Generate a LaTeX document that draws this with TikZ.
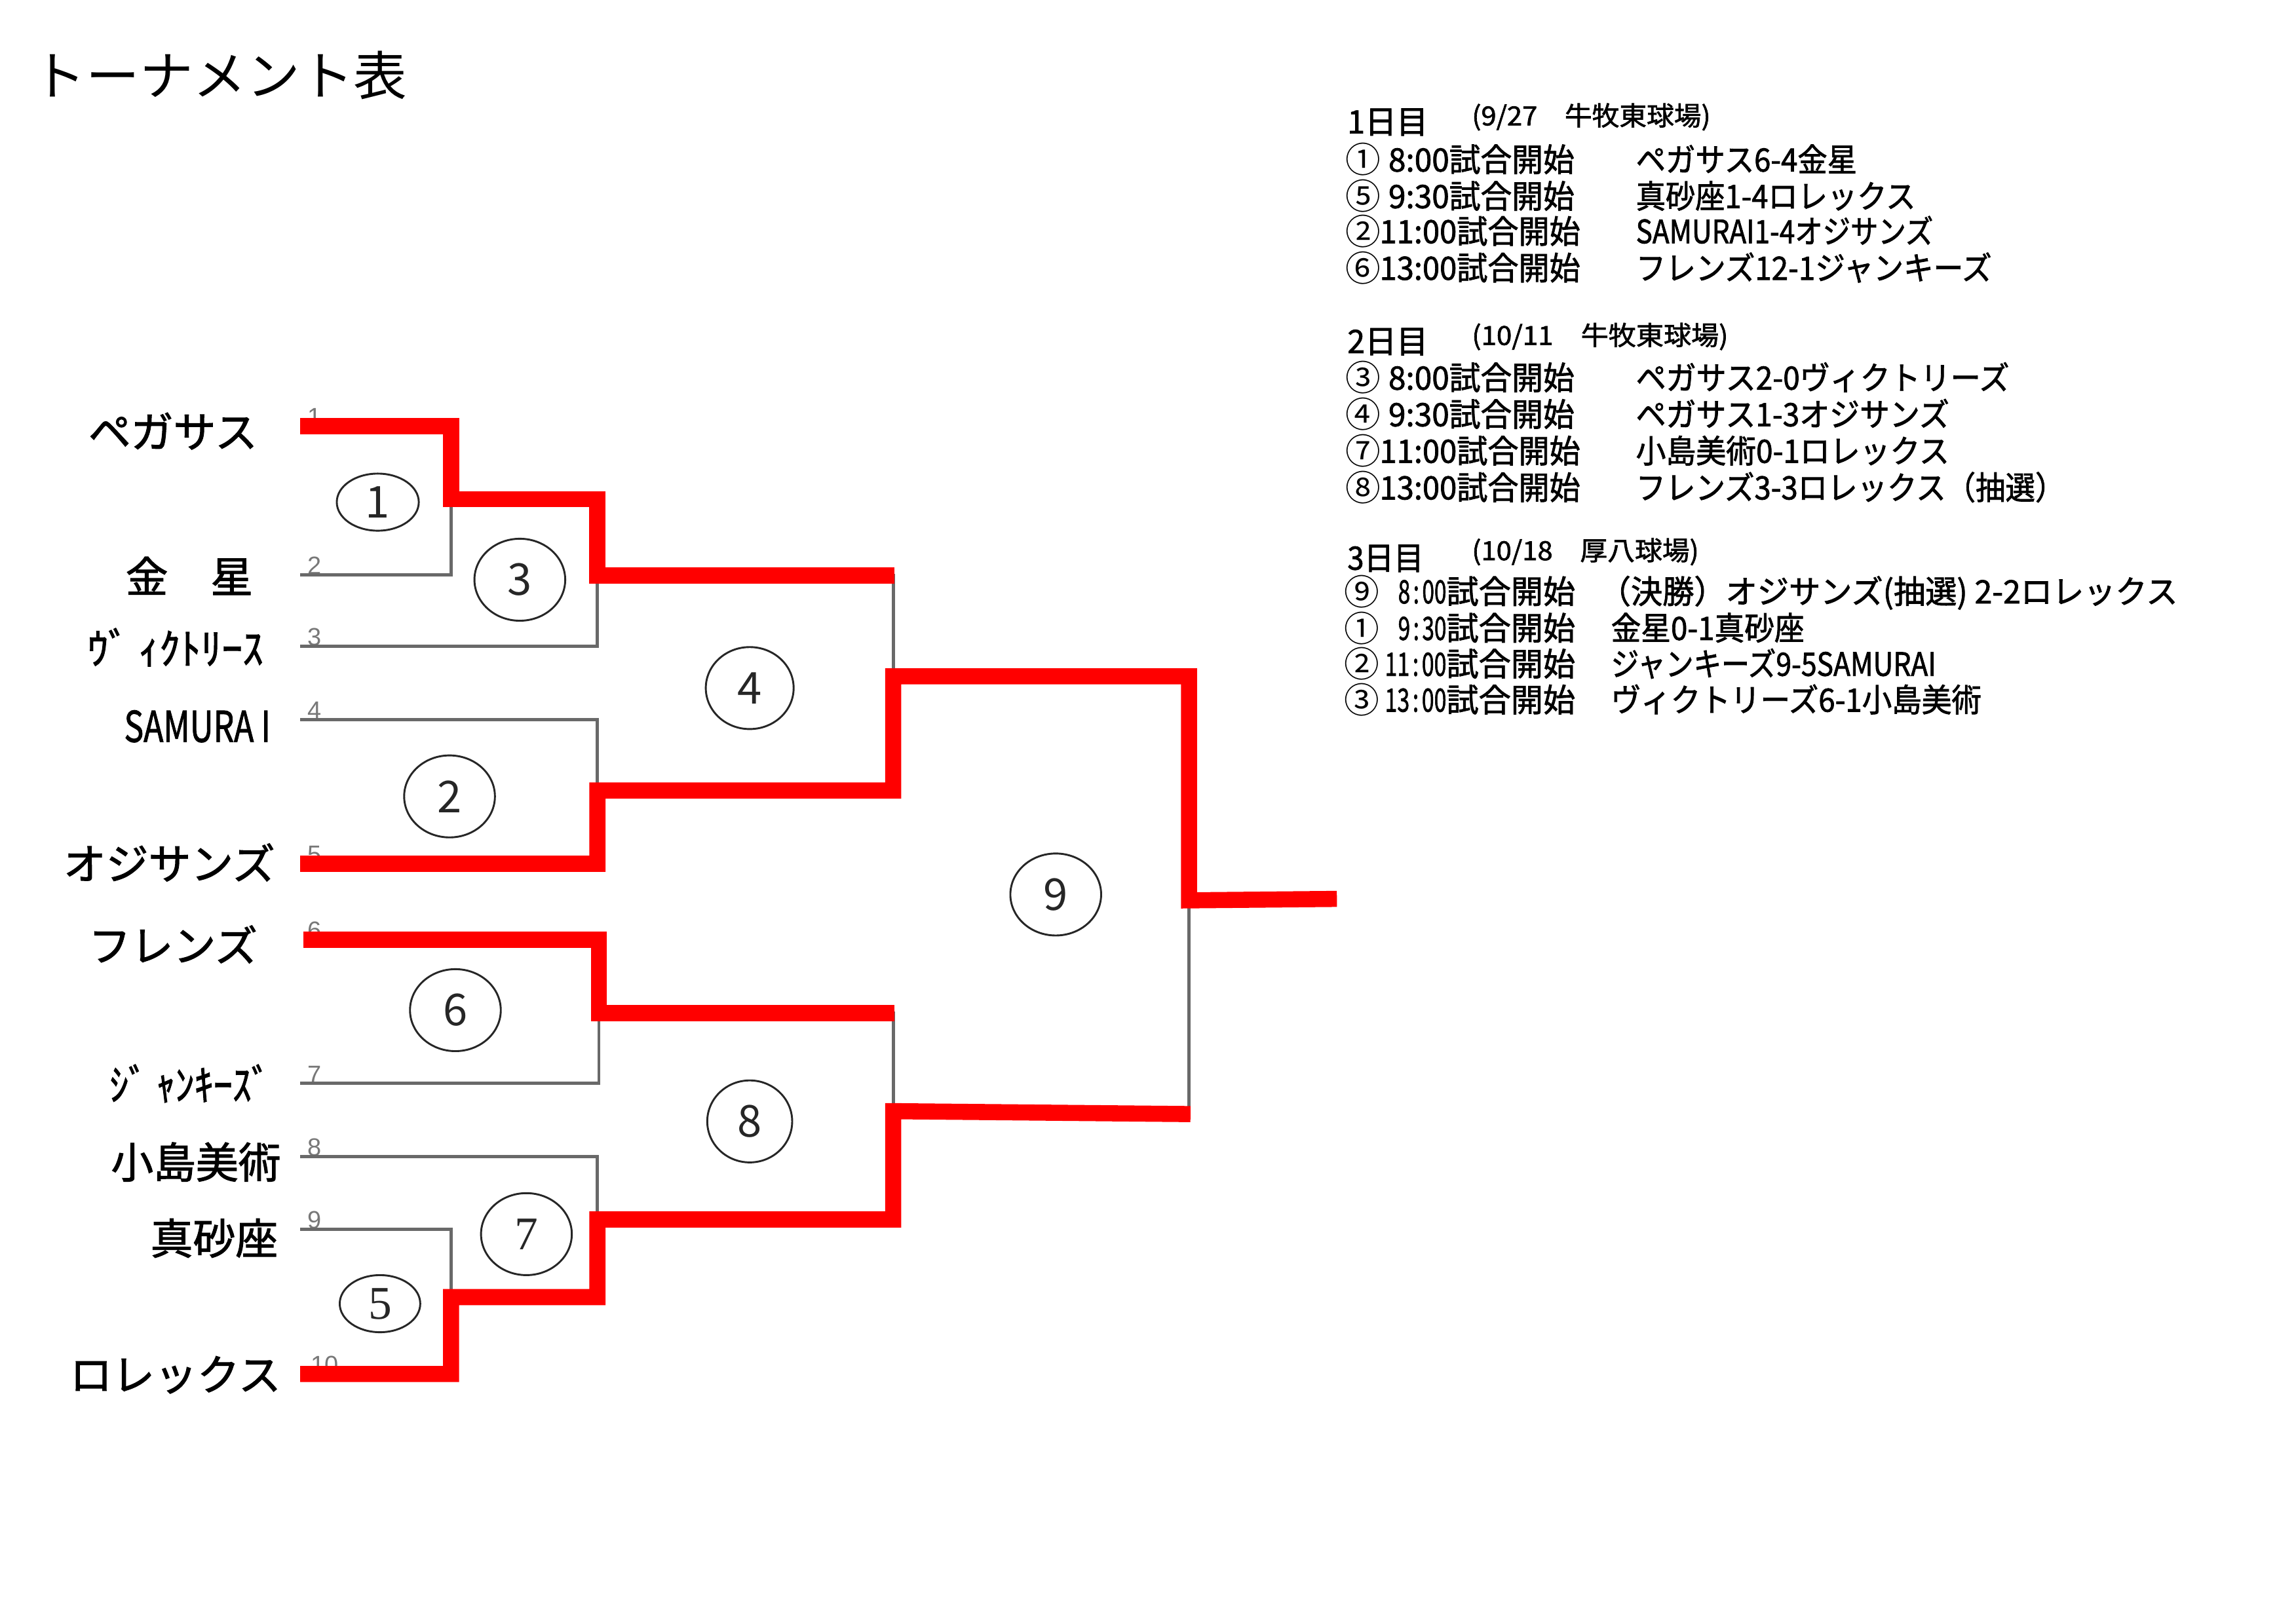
\documentclass[tikz,border=0pt]{standalone}
\usepackage{fontspec}
\usepackage{graphicx}
\setmainfont{Noto Sans CJK JP}
\newfontfamily\jpb{Noto Sans CJK JP}[FakeBold=1.6]
\newfontfamily\serifnum{Liberation Serif}
\newfontfamily\smallnum{Liberation Sans}
\usetikzlibrary{shapes.geometric}
\definecolor{bred}{RGB}{255,0,0}
\definecolor{bgray}{RGB}{105,105,105}
\definecolor{ngray}{RGB}{120,120,120}
\newcommand{\fitw}[2]{\resizebox{#1pt}{\height}{#2}}
\newcommand{\tm}[2]{\fitw{#1}{#2}試合開始}
\begin{document}
\begin{tikzpicture}[x=1pt,y=-1pt,
  redline/.style={draw=bred,line width=11pt,line join=miter,line cap=butt},
  grayline/.style={draw=bgray,line width=2.2pt,line join=miter},
  ring/.style={draw=black!85,line width=1.3pt,ellipse,inner sep=0pt,font=\fontsize{30}{30}\selectfont,text=black!85},
  team/.style={anchor=east,inner sep=0pt,font=\jpb\fontsize{29}{29}\selectfont,text height=24.4pt,text depth=2.9pt},
  lnum/.style={anchor=south west,inner sep=0pt,font=\smallnum\fontsize{17}{17}\selectfont,text=ngray},
  title/.style={anchor=west,inner sep=0pt,font=\fontsize{36}{36}\selectfont,text height=30.2pt,text depth=3.6pt},
  sched/.style={anchor=west,inner sep=0pt,font=\jpb\fontsize{22}{22}\selectfont,text height=18.5pt,text depth=2.2pt},
  schedt/.style={sched,anchor=east},
  schedp/.style={anchor=west,inner sep=0pt,font=\jpb\fontsize{18}{18}\selectfont,text height=15.1pt,text depth=1.8pt},
  circnum/.style={inner sep=0pt,font=\fontsize{24}{24}\selectfont}
]
\useasboundingbox (0,0) rectangle (1568,1109.3);
\fill[white] (0,0) rectangle (1568,1109.3);

% title
\node[title] (ttl) at (22,52) {\fitw{256}{トーナメント表}};

% team names
\node[team] (n1)  at (176,295) {ペガサス};
\node[team] (n2)  at (173,394) {金　星};
\node[team] (n3)  at (180,443) {\fitw{120}{ｳﾞ ｨｸﾄﾘｰｽ}};
\node[team] (n4)  at (185,496) {\fitw{100}{SAMURA I}};
\node[team] (n5)  at (188,590) {オジサンズ};
\node[team] (n6)  at (176,646) {フレンズ};
\node[team] (n7)  at (185,741) {\fitw{110}{ｼﾞ ｬﾝｷｰｽﾞ}};
\node[team] (n8)  at (192,794) {小島美術};
\node[team] (n9)  at (190,846) {真砂座};
\node[team] (n10) at (192,939) {ロレックス};

% bracket points
\coordinate (t1) at (205,291);
\coordinate (t2) at (205,392.5);
\coordinate (t3) at (205,441.5);
\coordinate (t4) at (205,491.5);
\coordinate (t5) at (205,590);
\coordinate (t6) at (207,642);
\coordinate (t7) at (205,740);
\coordinate (t8) at (205,790);
\coordinate (t9) at (205,839.5);
\coordinate (t10) at (205,938.5);
\coordinate (w1) at (308,341);
\coordinate (w3) at (408,393);
\coordinate (w2) at (408,540);
\coordinate (w4) at (610,462);
\coordinate (p4) at (611,393);
\coordinate (w6) at (409,692);
\coordinate (p8) at (611,692);
\coordinate (w5) at (308,886);
\coordinate (w7) at (408,833);
\coordinate (w8) at (610,759);
\coordinate (f) at (812,615);
\coordinate (q9) at (813,761);
\coordinate (fin) at (913,614);

% small line numbers
\node[lnum] (l1) at (210,291) {1};
\node[lnum] (l2) at (210,392.5) {2};
\node[lnum] (l3) at (210,441.5) {3};
\node[lnum] (l4) at (210,491.5) {4};
\node[lnum] (l5) at (210,590) {5};
\node[lnum] (l6) at (210,642) {6};
\node[lnum] (l7) at (210,740) {7};
\node[lnum] (l8) at (210,790) {8};
\node[lnum] (l9) at (210,839.5) {9};
\node[lnum] (l10) at (212,938.5) {10};

% gray (losing) lines
\draw[grayline] (t2) -| (w1);
\draw[grayline] (t3) -| (w3);
\draw[grayline] (t4) -| (w2);
\draw[grayline] (w3) -| (w4);
\draw[grayline] (t7) -| (w6);
\draw[grayline] (t8) -| (w7);
\draw[grayline] (t9) -| (w5);
\draw[grayline] (w6) -| (w8);
\draw[grayline] (w8) -| (f);

% red (winning) lines
\draw[redline] (t1) -| (w1) -| (w3) -- (p4);
\draw[redline] (t5) -| (w2) -| (w4) -| (f) -- (fin);
\draw[redline] (t6) -| (w6) -- (p8);
\draw[redline] (t10) -| (w5) -| (w7) -| (w8) -- (q9);

% match numbers
\node[ring,minimum width=56pt,minimum height=39pt] (c1) at (258,343) {1};
\node[ring,minimum width=62pt,minimum height=56pt] (c3) at (355,396) {3};
\node[ring,minimum width=62pt,minimum height=56pt] (c2) at (307,544) {2};
\node[ring,minimum width=60pt,minimum height=56pt] (c4) at (512,470) {4};
\node[ring,minimum width=62pt,minimum height=56pt] (c9) at (721,611) {9};
\node[ring,minimum width=62pt,minimum height=56pt] (c6) at (311,690) {6};
\node[ring,minimum width=58pt,minimum height=56pt] (c8) at (512,766) {8};
\node[ring,minimum width=62pt,minimum height=56pt,font=\serifnum\fontsize{32}{32}\selectfont] (c7) at (359.5,843) {7};
\node[ring,minimum width=55pt,minimum height=39pt,font=\serifnum\fontsize{32}{32}\selectfont] (c5) at (259.5,890.5) {5};

% ---- schedule : day 1
\node[sched] (d1) at (920,83) {\fitw{55}{1日目}};
\node[schedp] (d1p) at (1005,79) {\fitw{163}{(9/27　牛牧東球場)}};
\node[circnum] (a1c) at (931,109) {①};
\node[sched] (a1t) at (948,109) {\fitw{127}{8:00試合開始}};
\node[sched] (a1m) at (1117,109) {\fitw{151}{ペガサス6-4金星}};
\node[circnum] (a2c) at (931,134) {⑤};
\node[sched] (a2t) at (948,134) {\fitw{127}{9:30試合開始}};
\node[sched] (a2m) at (1117,134) {\fitw{191}{真砂座1-4ロレックス}};
\node[circnum] (a3c) at (931,158) {②};
\node[sched] (a3t) at (942,158) {\fitw{137}{11:00試合開始}};
\node[sched] (a3m) at (1117,158) {\fitw{203}{SAMURAI1-4オジサンズ}};
\node[circnum] (a4c) at (931,183) {⑥};
\node[sched] (a4t) at (942,183) {\fitw{137}{13:00試合開始}};
\node[sched] (a4m) at (1117,183) {\fitw{243}{フレンズ12-1ジャンキーズ}};

% ---- day 2
\node[sched] (d2) at (920,233) {\fitw{55}{2日目}};
\node[schedp] (d2p) at (1005,229) {\fitw{175}{(10/11　牛牧東球場)}};
\node[circnum] (b1c) at (931,258) {③};
\node[sched] (b1t) at (948,258) {\fitw{127}{8:00試合開始}};
\node[sched] (b1m) at (1117,258) {\fitw{255}{ペガサス2-0ヴィクトリーズ}};
\node[circnum] (b2c) at (931,283) {④};
\node[sched] (b2t) at (948,283) {\fitw{127}{9:30試合開始}};
\node[sched] (b2m) at (1117,283) {\fitw{214}{ペガサス1-3オジサンズ}};
\node[circnum] (b3c) at (931,308) {⑦};
\node[sched] (b3t) at (942,308) {\fitw{137}{11:00試合開始}};
\node[sched] (b3m) at (1117,308) {\fitw{214}{小島美術0-1ロレックス}};
\node[circnum] (b4c) at (931,333) {⑧};
\node[sched] (b4t) at (942,333) {\fitw{137}{13:00試合開始}};
\node[sched] (b4m) at (1117,333) {\fitw{293}{フレンズ3-3ロレックス（抽選）}};

% ---- day 3
\node[sched] (d3) at (920,381) {\fitw{52}{3日目}};
\node[schedp] (d3p) at (1005,376) {\fitw{155}{(10/18　厚八球場)}};
\node[circnum] (e1c) at (930,404) {⑨};
\node[schedt] (e1t) at (1076,404) {\tm{33}{8\kern3pt:\kern3pt00}};
\node[sched] (e1m) at (1092,404) {\fitw{395}{（決勝）オジサンズ(抽選) 2-2ロレックス}};
\node[circnum] (e2c) at (930,429) {①};
\node[schedt] (e2t) at (1076,429) {\tm{33}{9\kern3pt:\kern3pt30}};
\node[sched] (e2m) at (1100,429) {\fitw{132}{金星0-1真砂座}};
\node[circnum] (e3c) at (930,453.5) {②};
\node[schedt] (e3t) at (1076,453.5) {\tm{42}{11\kern3pt:\kern3pt00}};
\node[sched] (e3m) at (1100,453.5) {\fitw{222}{ジャンキーズ9-5SAMURAI}};
\node[circnum] (e4c) at (930,478) {③};
\node[schedt] (e4t) at (1076,478) {\tm{42}{13\kern3pt:\kern3pt00}};
\node[sched] (e4m) at (1100,478) {\fitw{253}{ヴィクトリーズ6-1小島美術}};
\end{tikzpicture}
\end{document}
